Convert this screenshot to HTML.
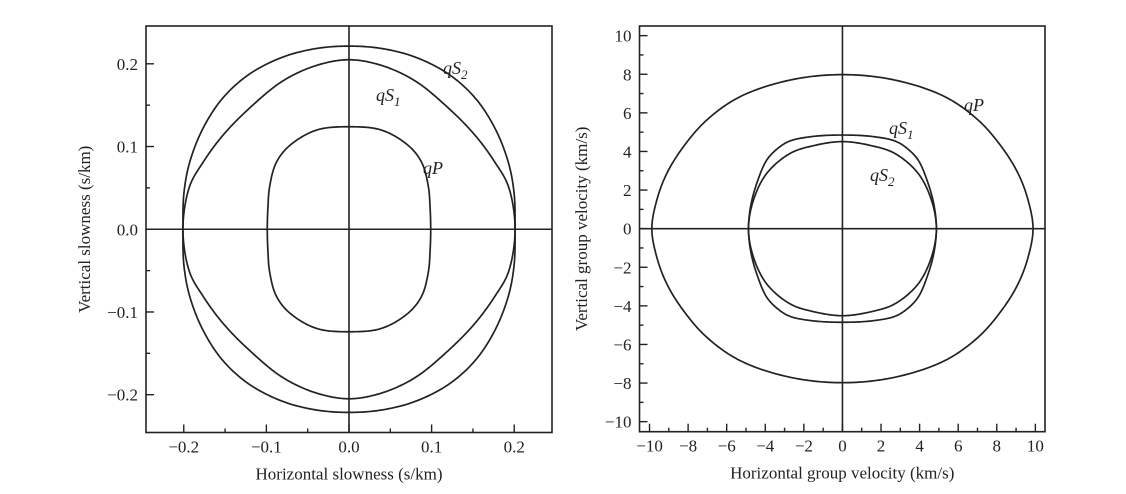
<!DOCTYPE html>
<html><head><meta charset="utf-8"><style>
body{margin:0;background:#fff;}
svg{display:block;font-family:"Liberation Serif","Times New Roman",serif;}
text{fill:#222;}
</style></head><body>
<svg id="svg" width="1126" height="494" viewBox="0 0 1126 494"></svg>
<script>
// Left panel data (slowness, s/km) — first-quadrant samples, mirrored to full loop
const slowQS2X=[0,0.0395,0.0799,0.1203,0.1526,0.1768,0.1929,0.1998,0.201];
const slowQS2Y=[0.2214,0.2185,0.2082,0.1877,0.1588,0.1218,0.0807,0.0436,0];
const slowQS1X=[0,0.0395,0.0799,0.1203,0.1526,0.1768,0.1929,0.201];
const slowQS1Y=[0.2049,0.198,0.1794,0.1465,0.1136,0.0807,0.0519,0];
const slowQPX=[0,0.0395,0.0718,0.088,0.096,0.0981,0.0989];
const slowQPY=[0.1239,0.1198,0.1012,0.0807,0.0519,0.027,0];
// Right panel data (group velocity, km/s)
const velQPX=[0,2.71,5.3,7.03,8.24,9.1,9.62,9.88];
const velQPY=[7.98,7.7,6.84,5.63,4.25,2.87,1.49,0];
const velQS1X=[0,1.5,2.7,3.3,3.92,4.44,4.75,4.87];
const velQS1Y=[4.85,4.78,4.55,4.2,3.56,2.35,1.2,0];
const velQS2X=[0,1.5,2.71,3.92,4.61,4.87];
const velQS2Y=[4.51,4.3,3.9,2.87,1.49,0];
const slowTicks=[-0.2,-0.1,0,0.1,0.2];
const slowTickLabels=["\u22120.2","\u22120.1","0.0","0.1","0.2"];
const velTicks=[-10,-8,-6,-4,-2,0,2,4,6,8,10];
const velTickLabels=["\u221210","\u22128","\u22126","\u22124","\u22122","0","2","4","6","8","10"];

const NS="http://www.w3.org/2000/svg";
const svg=document.getElementById('svg');
function mk(tag,attrs,parent){const e=document.createElementNS(NS,tag);for(const k in attrs)e.setAttribute(k,attrs[k]);(parent||svg).appendChild(e);return e;}

function fullLoop(xs,ys){
  const pts=[];
  for(let i=0;i<xs.length;i++)pts.push([xs[i],ys[i]]);
  for(let i=xs.length-2;i>=0;i--)pts.push([xs[i],-ys[i]]);
  for(let i=1;i<xs.length;i++)pts.push([-xs[i],-ys[i]]);
  for(let i=xs.length-2;i>0;i--)pts.push([-xs[i],ys[i]]);
  return pts;
}
// centripetal Catmull-Rom, closed, in pixel space
function crPath(P){
  const n=P.length;const out=[];
  const get=i=>P[((i%n)+n)%n];
  const tj=(ti,a,b)=>ti+Math.pow(Math.hypot(b[0]-a[0],b[1]-a[1]),0.5);
  for(let i=0;i<n;i++){
    const p0=get(i-1),p1=get(i),p2=get(i+1),p3=get(i+2);
    const t0=0,t1=tj(t0,p0,p1),t2=tj(t1,p1,p2),t3=tj(t2,p2,p3);
    const steps=16;
    for(let s=0;s<steps;s++){
      const t=t1+(t2-t1)*s/steps;
      const L=(a,b,ta,tb)=>[ (tb-t)/(tb-ta)*a[0]+(t-ta)/(tb-ta)*b[0], (tb-t)/(tb-ta)*a[1]+(t-ta)/(tb-ta)*b[1] ];
      const A1=L(p0,p1,t0,t1),A2=L(p1,p2,t1,t2),A3=L(p2,p3,t2,t3);
      const B1=L(A1,A2,t0,t2),B2=L(A2,A3,t1,t3);
      out.push(L(B1,B2,t1,t2));
    }
  }
  return 'M'+out.map(p=>p[0].toFixed(2)+','+p[1].toFixed(2)).join('L')+'Z';
}

function panel(cfg){
  const g=mk('g',{});
  
  
  const sx=v=>cfg.x0+(v-cfg.min)/(cfg.max-cfg.min)*(cfg.x1-cfg.x0);
  const sy=v=>cfg.y1-(v-cfg.min)/(cfg.max-cfg.min)*(cfg.y1-cfg.y0);
  const box=mk('rect',{x:cfg.x0,y:cfg.y0,width:cfg.x1-cfg.x0,height:cfg.y1-cfg.y0,fill:'none',stroke:'#222','stroke-width':1.6},g);
  
  
  const ax=mk('line',{x1:cfg.x0,x2:cfg.x1,y1:sy(0),y2:sy(0),stroke:'#222','stroke-width':1.6},g);
  
  
  const ay=mk('line',{x1:sx(0),x2:sx(0),y1:cfg.y0,y2:cfg.y1,stroke:'#222','stroke-width':1.6},g);
  
  
  const minors=[];
  for(let i=0;i<cfg.ticks.length-1;i++)minors.push((cfg.ticks[i]+cfg.ticks[i+1])/2);
  minors.push(cfg.ticks[0]-cfg.minorStep, cfg.ticks[cfg.ticks.length-1]+cfg.minorStep);
  minors.forEach(v=>{
    if(v<cfg.min||v>cfg.max)return;
    mk('line',{x1:sx(v),x2:sx(v),y1:cfg.y1,y2:cfg.y1-4,stroke:'#222','stroke-width':1.4},g);
    mk('line',{x1:cfg.x0,x2:cfg.x0+4,y1:sy(v),y2:sy(v),stroke:'#222','stroke-width':1.4},g);
  });
  cfg.ticks.forEach((v,i)=>{
    mk('line',{x1:sx(v),x2:sx(v),y1:cfg.y1,y2:cfg.y1-8,stroke:'#222','stroke-width':1.4},g);
    mk('line',{x1:cfg.x0,x2:cfg.x0+8,y1:sy(v),y2:sy(v),stroke:'#222','stroke-width':1.4},g);
    const tx=mk('text',{x:sx(v),y:cfg.y1+20,'text-anchor':'middle','font-size':17},g);
    tx.textContent=cfg.labels[i];
    
    
    const ty=mk('text',{x:cfg.x0-8,y:sy(v)+6,'text-anchor':'end','font-size':17},g);
    ty.textContent=cfg.labels[i];
    
    
  });
  const xt=mk('text',{x:(cfg.x0+cfg.x1)/2,y:cfg.y1+47,'text-anchor':'middle','font-size':17},g);
  xt.textContent=cfg.xTitle;
  
  
  const yt=mk('text',{x:0,y:0,'text-anchor':'middle','font-size':17,transform:`translate(${cfg.yTitleX},${(cfg.y0+cfg.y1)/2}) rotate(-90)`},g);
  yt.textContent=cfg.yTitle;
  
  
  cfg.series.forEach(s=>{
    const pts=fullLoop(s.xs,s.ys).map(p=>[sx(p[0]),sy(p[1])]);
    const p=mk('path',{d:crPath(pts),fill:'none',stroke:'#222','stroke-width':1.7,'stroke-linejoin':'round'},g);
    
    
    const t=mk('text',{x:s.lx,y:s.ly,'font-size':18,'font-style':'italic'},g);
    
    
    const a=mk('tspan',{},t);a.textContent=s.label;
    const b=mk('tspan',{dy:5,'font-size':13},t);b.textContent=s.sub;
  });
}

panel({name:'slowness-panel',x0:146,x1:552,y0:26,y1:432.5,min:-0.2457,max:0.2457,minorStep:0.05,
  ticks:slowTicks,labels:slowTickLabels,xTitle:'Horizontal slowness (s/km)',yTitle:'Vertical slowness (s/km)',yTitleX:90,
  series:[
    {name:'slowness-qs2-curve',xs:slowQS2X,ys:slowQS2Y,label:'qS',sub:'2',lx:443,ly:74},
    {name:'slowness-qs1-curve',xs:slowQS1X,ys:slowQS1Y,label:'qS',sub:'1',lx:376,ly:101},
    {name:'slowness-qp-curve',xs:slowQPX,ys:slowQPY,label:'qP',sub:'',lx:423,ly:174}
  ]});
panel({name:'group-velocity-panel',x0:639.5,x1:1045,y0:26,y1:431.7,min:-10.52,max:10.5,minorStep:1,
  ticks:velTicks,labels:velTickLabels,xTitle:'Horizontal group velocity (km/s)',yTitle:'Vertical group velocity (km/s)',yTitleX:587,
  series:[
    {name:'velocity-qp-curve',xs:velQPX,ys:velQPY,label:'qP',sub:'',lx:964,ly:111},
    {name:'velocity-qs1-curve',xs:velQS1X,ys:velQS1Y,label:'qS',sub:'1',lx:889,ly:134},
    {name:'velocity-qs2-curve',xs:velQS2X,ys:velQS2Y,label:'qS',sub:'2',lx:870,ly:181}
  ]});
</script>
</body></html>
